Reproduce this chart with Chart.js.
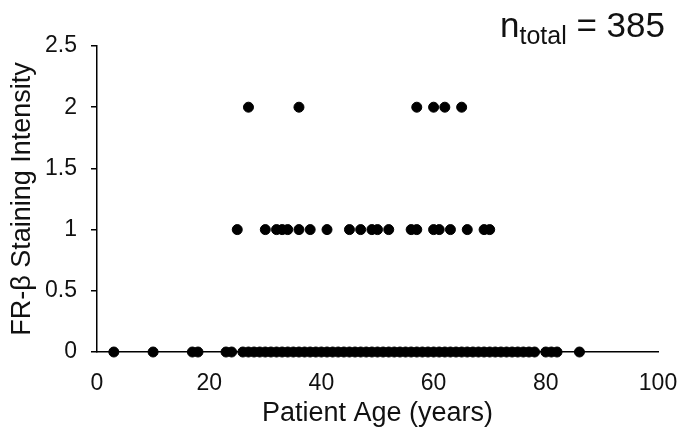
<!DOCTYPE html>
<html>
<head>
<meta charset="utf-8">
<script src="https://cdn.jsdelivr.net/npm/chart.js@4/dist/chart.umd.min.js"></script>
<style>
  html, body { margin: 0; padding: 0; background: #fff; }
  #wrap { position: relative; width: 680px; height: 436px; }
  #n { position: absolute; right: 15px; top: 5px; font-family: "Liberation Sans", Arial, sans-serif;
       font-size: 35px; line-height: 40px; color: #111; white-space: nowrap; }
  #n sub { font-size: 25px; vertical-align: -7px; line-height: 0; }
</style>
</head>
<body>
<div id="wrap">
  <canvas id="chart-canvas" width="680" height="436"></canvas>
  <div id="n">n<sub>total</sub> = 385</div>
</div>
<script>
// ages (years) for each staining score
var ages2 = [27, 36, 57, 60, 62, 65];
var ages1 = [25, 30, 32, 33, 34, 36, 38, 41, 45, 47, 49, 50, 52, 56, 57, 60, 61, 63, 66, 69, 70];
var ages0 = [3, 10, 17, 18, 23, 24,
  26, 27, 28, 29, 30, 31, 32, 33, 34, 35, 36, 37, 38, 39, 40, 41, 42, 43, 44, 45, 46, 47, 48, 49, 50, 51, 52,
  53, 54, 55, 56, 57, 58, 59, 60, 61, 62, 63, 64, 65, 66, 67, 68, 69, 70, 71, 72, 73, 74, 75, 76, 77, 78,
  80, 81, 82, 86];
var yTicks = [0, 0.5, 1, 1.5, 2, 2.5];
var xTicks = [0, 20, 40, 60, 80, 100];

var pts = [];
ages0.forEach(function(a){ pts.push({x: a, y: 0}); });
ages1.forEach(function(a){ pts.push({x: a, y: 1}); });
ages2.forEach(function(a){ pts.push({x: a, y: 2}); });

var font = "'Liberation Sans', Arial, sans-serif";
var ink = '#111';

var ctx = document.getElementById("chart-canvas");
new Chart(ctx, {
  type: "scatter",
  data: {
    datasets: [{
      data: pts,
      backgroundColor: "#000",
      borderColor: "#000",
      pointRadius: 5,
      pointHoverRadius: 5,
      clip: false
    }]
  },
  options: {
    responsive: false,
    animation: false,
    layout: { padding: { left: 0, right: 22, top: 46, bottom: 0 } },
    plugins: { legend: { display: false }, tooltip: { enabled: false } },
    scales: {
      x: {
        type: "linear", min: 0, max: 100,
        afterBuildTicks: function(s){ s.ticks = xTicks.map(function(v){ return {value: v}; }); },
        afterFit: function(s){ s.height = 84; s.paddingLeft = 0; s.paddingRight = 0; },
        grid: { display: true, drawOnChartArea: false, drawTicks: false },
        border: { display: true, color: "#000", width: 1.5 },
        ticks: { color: ink, font: { family: font, size: 23 }, padding: 18, maxRotation: 0 },
        title: { display: true, text: "Patient Age (years)", color: ink, font: { family: font, size: 27 }, padding: { top: 0, bottom: 6 } }
      },
      y: {
        type: "linear", min: 0, max: 2.5,
        afterBuildTicks: function(s){ s.ticks = yTicks.map(function(v){ return {value: v}; }); },
        afterFit: function(s){ s.width = 97; s.paddingTop = 0; s.paddingBottom = 0; },
        grid: { display: true, drawOnChartArea: false, drawTicks: true, tickLength: 6, color: "#000", lineWidth: 1.5 },
        border: { display: true, color: "#000", width: 1.5 },
        ticks: { color: ink, font: { family: font, size: 23 }, padding: 14,
                 callback: function(v){ return String(v); } },
        title: { display: true, text: "FR-β Staining Intensity", color: ink, font: { family: font, size: 27 }, padding: 6 }
      }
    }
  }
});
</script>
</body>
</html>
